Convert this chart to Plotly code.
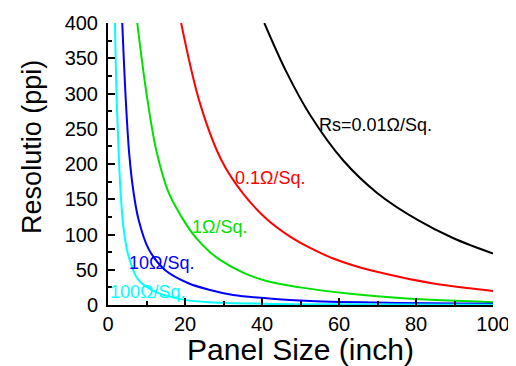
import plotly.graph_objects as go

# Panel size (inch) and resolution (ppi)
black_x = [40.6, 46.4, 52.5, 61.0, 69.9, 80.3, 89.6, 100]
black_y = [400, 330, 269.5, 205.7, 159, 121, 95, 73]

red_x = [19.0, 23.9, 29.5, 35.1, 41.2, 47.3, 52.5, 58.5, 67.2, 75.8, 84.5, 93.2, 100]
red_y = [400, 286, 205, 158, 122, 97, 81, 66, 50.6, 39.6, 30.5, 24, 20]

green_x = [7.6, 10.0, 12.6, 15.7, 19.1, 22.6, 26.5, 29.1, 35.1, 41.2, 49.9, 62.9, 75.8, 100]
green_y = [400, 300, 218, 160, 125, 97, 75, 64, 46, 34, 25, 16, 10, 4]

blue_x = [3.7, 4.6, 5.5, 6.5, 7.9, 10.5, 14.8, 20.9, 26.5, 32.5, 41.2, 52.5, 75.0, 100]
blue_y = [400, 293, 215, 165, 122, 80, 49.6, 30.8, 21.3, 14.2, 9.5, 5.5, 2.8, 1.6]

cyan_x = [1.8, 2.3, 2.9, 3.3, 4.0, 5.3, 7.9, 12.2, 19.1, 26.5, 40.0, 60.0, 100]
cyan_y = [400, 285, 199, 158, 111, 70, 35.5, 18.9, 8, 4, 1.8, 0.9, 0.4]

labels = ["Rs=0.01\u03a9/Sq.", "0.1\u03a9/Sq.", "1\u03a9/Sq.", "10\u03a9/Sq.", "100\u03a9/Sq."]
label_x = [69.4, 42.2, 29.0, 14.0, 10.3]
label_y = [255, 180, 111, 59.6, 18.9]

x_title = "Panel Size (inch)"
y_title = "Resolutio (ppi)"

colors = ["#000000", "#FF0000", "#00E000", "#0000FF", "#00FFFF"]
series = [(black_x, black_y), (red_x, red_y), (green_x, green_y), (blue_x, blue_y), (cyan_x, cyan_y)]

FONT = "Liberation Sans, Arial, sans-serif"

fig = go.Figure()
for (xs, ys), c in zip(series, colors):
    fig.add_trace(go.Scatter(x=xs, y=ys, mode="lines",
                             line=dict(color=c, width=2, shape="spline", smoothing=1.0),
                             showlegend=False, hoverinfo="skip"))

for t, lx, ly, c in zip(labels, label_x, label_y, colors):
    fig.add_annotation(x=lx, y=ly, text=t, showarrow=False,
                       font=dict(family=FONT, size=18, color=c),
                       xanchor="center", yanchor="middle")

# y-axis title placed as a rotated annotation (sits above the axis centre in the original)
fig.add_annotation(x=-0.199, y=0.562, xref="paper", yref="paper", text=y_title,
                   showarrow=False, textangle=-90, xanchor="center", yanchor="middle",
                   font=dict(family=FONT, size=27, color="black"))

axis_common = dict(
    showline=True, linecolor="black", linewidth=2,
    ticks="inside", ticklen=7, tickwidth=2, tickcolor="black",
    showgrid=False, zeroline=False, mirror=False, automargin=False,
    tickfont=dict(family=FONT, size=20, color="black"),
)

fig.update_xaxes(range=[0, 100], dtick=20, tick0=0,
                 minor=dict(ticks="inside", ticklen=4, tickwidth=2, dtick=10, tickcolor="black", showgrid=False),
                 title=dict(text=x_title, font=dict(family=FONT, size=30, color="black"), standoff=5),
                 **axis_common)
fig.update_yaxes(range=[0, 400], dtick=50, tick0=0, ticklabelstandoff=4,
                 minor=dict(ticks="inside", ticklen=4, tickwidth=2, dtick=25, tickcolor="black", showgrid=False),
                 **axis_common)

# the page body adds an 8px offset, so the figure is sized to fit the window
fig.update_layout(width=508, height=358,
                  margin=dict(l=100, r=23, t=15, b=61),
                  plot_bgcolor="white", paper_bgcolor="white")

fig.write_html("out.html")
